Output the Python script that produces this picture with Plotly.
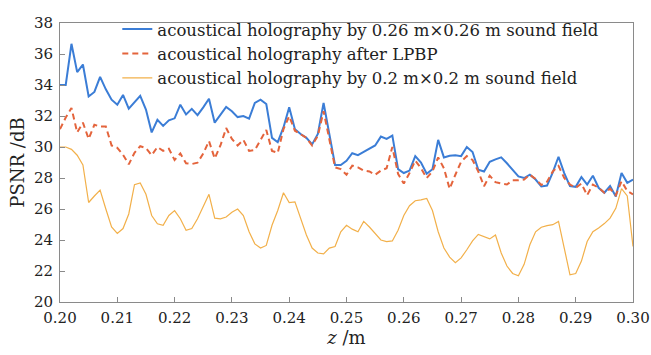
import plotly.graph_objects as go

# Propagation distance z (m), sampled every 1 mm
z = [round(0.200 + 0.001 * k, 3) for k in range(101)]

# PSNR (dB) with the 0.26 m x 0.26 m measurement aperture
psnr_large = [
    34.00, 34.00, 36.66, 34.83, 35.32, 33.26, 33.55, 34.52, 33.72, 33.05,
    32.73, 33.36, 32.48, 32.88, 33.30, 32.42, 30.94, 31.75, 31.36, 31.72,
    31.85, 32.73, 32.10, 32.46, 32.06, 32.56, 33.11, 31.57, 32.06, 32.58,
    32.31, 31.93, 32.00, 31.83, 32.84, 33.05, 32.77, 30.59, 30.31, 31.26,
    32.56, 31.15, 30.84, 30.59, 30.17, 30.84, 32.84, 30.73, 28.84, 28.84,
    29.11, 29.60, 29.47, 29.68, 29.89, 30.10, 30.67, 30.52, 30.73, 28.57,
    28.32, 28.48, 29.41, 28.99, 28.27, 28.57, 30.46, 29.33, 29.44, 29.47,
    29.41, 30.00, 29.68, 28.53, 28.42, 29.05, 29.20, 29.33, 28.95, 28.53,
    28.10, 28.00, 28.21, 27.90, 27.45, 27.51, 28.36, 29.37, 28.32, 27.48,
    27.43, 28.06, 27.58, 28.15, 27.37, 27.05, 27.48, 26.80, 28.32, 27.69,
    27.90,
]

# PSNR (dB) after LPBP aperture extrapolation
psnr_lpbp = [
    31.15, 31.90, 32.52, 30.94, 31.57, 30.52, 31.43, 31.32, 31.32, 30.10,
    29.95, 29.50, 28.88, 29.63, 30.05, 29.93, 29.47, 30.00, 29.75, 29.89,
    29.16, 29.58, 28.95, 28.90, 28.99, 29.58, 30.38, 29.26, 30.10, 31.22,
    30.52, 30.10, 30.46, 29.75, 29.80, 30.46, 31.10, 29.75, 29.62, 31.15,
    31.99, 31.05, 30.84, 30.59, 30.10, 30.73, 32.31, 30.42, 28.69, 28.57,
    28.21, 28.80, 28.69, 28.48, 28.42, 28.21, 28.48, 28.63, 30.00, 28.27,
    27.64, 28.32, 29.12, 28.63, 28.00, 28.42, 29.33, 28.63, 27.30, 28.21,
    29.05, 29.41, 29.16, 28.42, 27.47, 28.15, 27.73, 27.64, 27.58, 27.85,
    27.85, 27.90, 28.21, 27.94, 27.55, 27.76, 28.42, 28.78, 28.00, 27.58,
    27.37, 27.64, 26.89, 27.58, 27.37, 27.05, 27.31, 26.89, 27.79, 27.16,
    26.95,
]

# PSNR (dB) with the 0.2 m x 0.2 m measurement aperture
psnr_small = [
    30.00, 30.00, 29.85, 29.47, 28.84, 26.42, 26.84, 27.22, 26.00, 24.84,
    24.42, 24.74, 25.68, 27.57, 27.68, 26.95, 25.58, 25.05, 24.95, 25.58,
    25.90, 25.37, 24.63, 24.74, 25.37, 26.21, 26.95, 25.41, 25.37, 25.48,
    25.79, 26.00, 25.58, 24.53, 23.75, 23.48, 23.65, 24.95, 25.90, 27.05,
    26.42, 26.46, 25.37, 24.32, 23.48, 23.16, 23.10, 23.48, 23.58, 24.53,
    24.95, 24.70, 24.53, 25.20, 24.84, 24.43, 24.00, 23.90, 23.94, 24.63,
    25.58, 26.21, 26.53, 26.59, 26.68, 25.90, 24.53, 23.48, 22.90, 22.53,
    22.85, 23.37, 23.94, 24.36, 24.20, 24.07, 24.32, 23.16, 22.32, 21.84,
    21.69, 22.43, 23.69, 24.53, 24.82, 24.93, 24.99, 25.20, 23.48, 21.75,
    21.84, 22.64, 23.90, 24.53, 24.78, 25.06, 25.41, 26.04, 27.31, 26.84,
    23.58,
]

series_names = [
    "acoustical holography by 0.26 m×0.26 m sound field",
    "acoustical holography after LPBP",
    "acoustical holography by 0.2 m×0.2 m sound field",
]

x_ticks = [0.20, 0.21, 0.22, 0.23, 0.24, 0.25, 0.26, 0.27, 0.28, 0.29, 0.30]
x_tick_labels = ["0.20", "0.21", "0.22", "0.23", "0.24", "0.25",
                 "0.26", "0.27", "0.28", "0.29", "0.30"]
y_ticks = [20, 22, 24, 26, 28, 30, 32, 34, 36, 38]

FONT = "DejaVu Serif"
AXIS_GREY = "#8a8a8a"

fig = go.Figure()
fig.add_trace(go.Scatter(
    x=z, y=psnr_large, mode="lines", name=series_names[0],
    line=dict(color="#3b7dd6", width=2),
))
fig.add_trace(go.Scatter(
    x=z, y=psnr_lpbp, mode="lines", name=series_names[1],
    line=dict(color="#e4643c", width=2, dash="6px,4px"),
))
fig.add_trace(go.Scatter(
    x=z, y=psnr_small, mode="lines", name=series_names[2],
    line=dict(color="#f2b04a", width=1.2),
))

fig.update_layout(
    width=651, height=355,
    margin=dict(l=60, r=18, t=16, b=53),
    paper_bgcolor="white", plot_bgcolor="white",
    font=dict(family=FONT, size=15, color="#222222"),
    showlegend=True,
    legend=dict(
        x=0.10, y=1.04, xanchor="left", yanchor="top",
        bgcolor="rgba(255,255,255,0)", borderwidth=0,
        font=dict(family=FONT, size=16.5, color="#222222"),
        tracegroupgap=0,
    ),
    xaxis=dict(
        range=[0.2, 0.3], tickmode="array",
        tickvals=x_ticks, ticktext=x_tick_labels,
        ticks="inside", ticklen=5, tickcolor=AXIS_GREY,
        ticklabelstandoff=2, automargin=False,
        showline=True, linecolor=AXIS_GREY, linewidth=1, mirror=True,
        showgrid=False, zeroline=False,
        title=dict(text="<i>z</i> /m", standoff=5),
    ),
    yaxis=dict(
        range=[20, 38], tickmode="array", tickvals=y_ticks,
        ticks="inside", ticklen=5, tickcolor=AXIS_GREY,
        ticklabelstandoff=3, automargin=False,
        showline=True, linecolor=AXIS_GREY, linewidth=1, mirror=True,
        showgrid=False, zeroline=False,
        title=dict(text="PSNR /dB", standoff=4),
    ),
)

fig.write_html("out.html", config={"displayModeBar": False})
